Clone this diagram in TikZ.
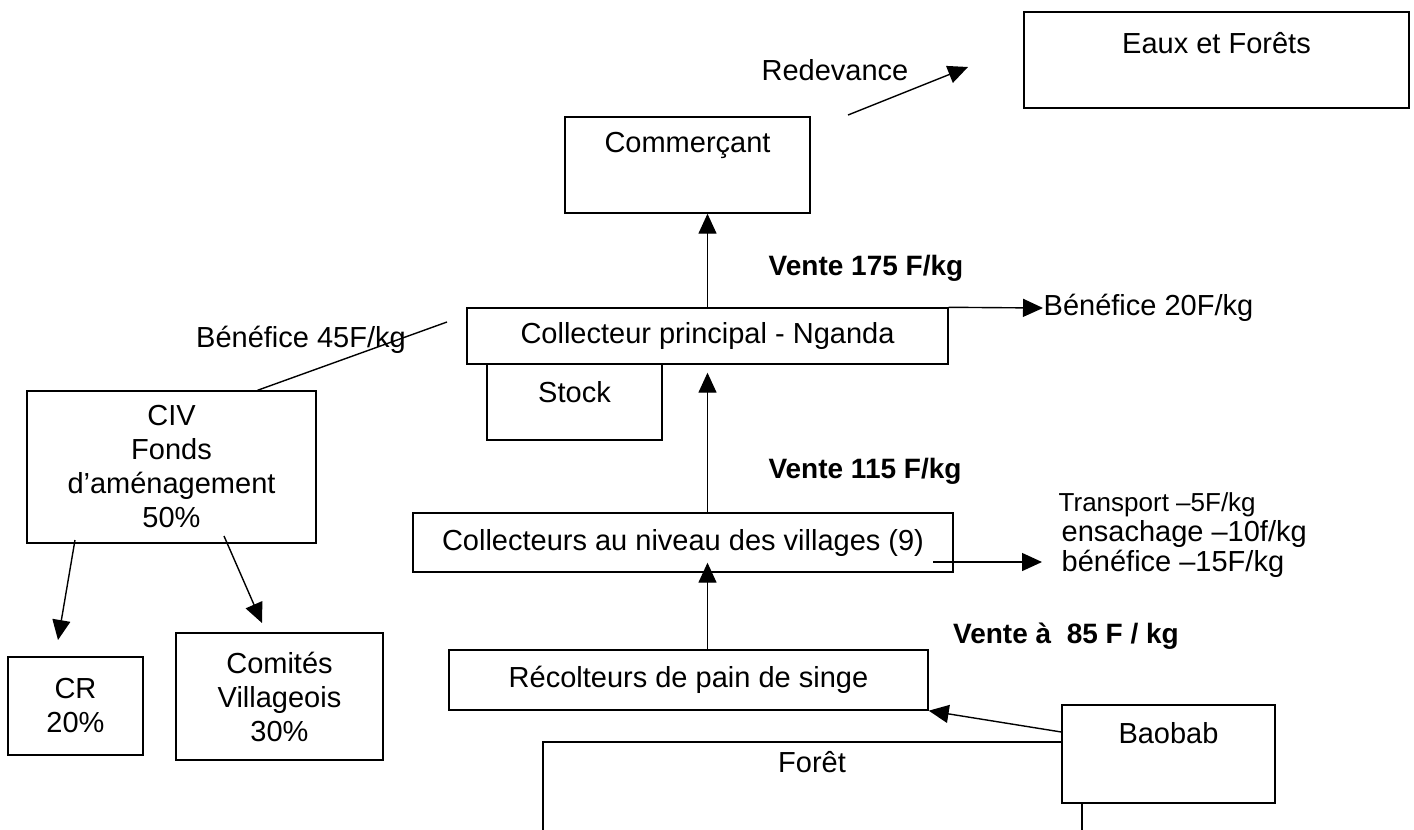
\documentclass[tikz,border=0pt]{standalone}
\usepackage{fontspec}
\setmainfont{Liberation Sans}
\usetikzlibrary{arrows.meta}
\tikzset{
  box/.style={draw, line width=1.4pt, inner sep=0pt, font=\fontsize{29}{34}\selectfont},
  txt/.style={inner sep=0pt, font=\fontsize{29}{34}\selectfont},
  bigtxt/.style={inner sep=0pt, font=\fontsize{28}{33}\selectfont\bfseries},
}
\begin{document}
\begin{tikzpicture}[x=1pt, y=-1pt, >={Triangle[length=20pt,width=18pt]}, line width=1.4pt]
    \useasboundingbox (0,0) rectangle (1414,830);

    % Boxes
    \node[box, minimum width=385, minimum height=96] (eaux) at (1216.5,60) {};
    \node[txt] (eaux-t) at (1216.5,43) {Eaux et Forêts};
    \node[box, minimum width=245, minimum height=96] (com) at (687.5,165) {};
    \node[txt] (com-t) at (687.5,145) {Commerçant};
    \node[box, minimum width=481, minimum height=56] (cp) at (707.5,336) {Collecteur principal - Nganda};
    \node[box, minimum width=175, minimum height=76] (stock) at (574.5,402) {};
    \node[txt] (stock-t) at (574.5,392) {Stock};
    \node[box, minimum width=540, minimum height=59] (vil) at (683,542.5) {Collecteurs au niveau des villages (9)};
    \node[box, minimum width=479, minimum height=60] (rec) at (688.5,680) {Récolteurs de pain de singe};
    \node[box, minimum width=213, minimum height=98] (baobab) at (1168.5,754) {};
    \node[txt] (baobab-t) at (1168.5,733) {Baobab};
    \node[box, minimum width=289, minimum height=152, align=center] (civ) at (171.5,467) {CIV\\Fonds\\d’aménagement\\50\%};
    \node[box, minimum width=135, minimum height=98, align=center] (cr) at (75.5,706) {CR\\20\%};
    \node[box, minimum width=207, minimum height=127, align=center] (cv) at (279.5,696.5) {Comités\\Villageois\\30\%};

    % Forest
    \draw (543,830) -- (543,742) -- (baobab.west |- 0,742);
    \draw (baobab.south -| 1082,0) -- (1082,830);
    \node[txt] (foret) at (812,762) {Forêt};

    % Labels
    \node[txt] (redev) at (835,70) {Redevance};
    \node[bigtxt] (v175) at (866,268) {Vente 175 F/kg};
    \node[txt, anchor=west] (b20) at (1043,308) {Bénéfice 20F/kg};
    \node[txt] (b45) at (301,340) {Bénéfice 45F/kg};
    \node[bigtxt] (v115) at (865,471) {Vente 115 F/kg};
    \node[txt, anchor=west, align=left, font=\fontsize{29}{30}\selectfont] (frais) at (1058,535)
        {{\fontsize{26}{30}\selectfont Transport –5F/kg}\\ \hspace{3pt}ensachage –10f/kg\\ \hspace{3pt}bénéfice –15F/kg};
    \node[bigtxt] (v85) at (1066,636) {Vente à~ 85 F / kg};

    % Flows
    \coordinate (r1) at (848,115);
    \coordinate (r2) at (968,67);
    \draw[->] (r1) -- (r2);
    \draw[->] (cp.north) -- (cp.north |- com.south);
    \draw[->] (cp.north east) -- (b20.west);
    \coordinate (b45a) at (447,322);
    \draw (b45a) -- ([xshift=86pt]civ.north);
    \draw[->] (vil.north -| cp.south) -- ([yshift=-8pt]cp.south);
    \coordinate (v1) at (933,562);
    \coordinate (v2) at (1042,562);
    \draw[->] (v1) -- (v2);
    \draw[->] (rec.north -| cp.north) -- ([yshift=10pt]vil.south -| cp.north);
    \draw[->] ([yshift=22pt]baobab.west) -- (rec.south east);
    \coordinate (c1) at (75,540);
    \coordinate (c2) at (58,640);
    \draw[->] (c1) -- (c2);
    \coordinate (c3) at (224,536);
    \coordinate (c4) at (262,623);
    \draw[->] (c3) -- (c4);
\end{tikzpicture}
\end{document}
